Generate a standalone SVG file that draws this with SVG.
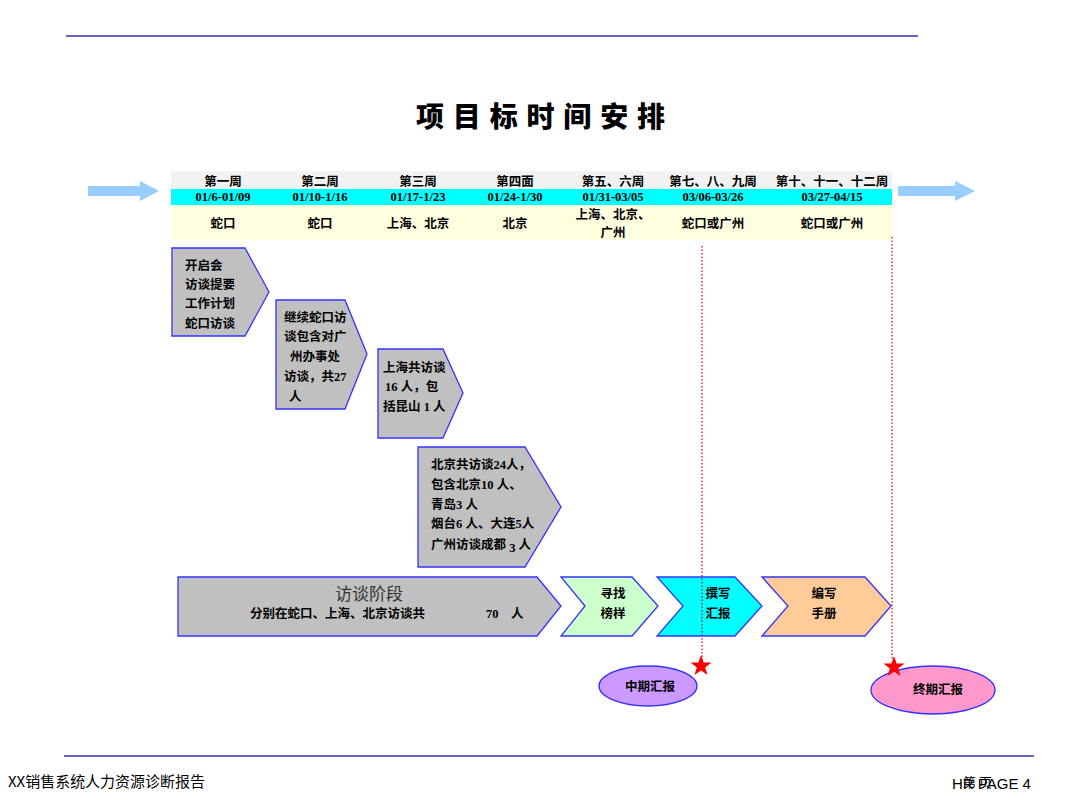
<svg xmlns="http://www.w3.org/2000/svg" width="1080" height="810" viewBox="0 0 1080 810">
<defs>
<style>
.t{font-family:"Liberation Serif","Noto Sans CJK SC",serif;font-weight:bold;font-size:12.5px;fill:#000}
.h{font-family:"Noto Sans CJK SC",sans-serif;font-weight:bold;font-size:12.5px;fill:#000}
.c{text-anchor:middle}
.pent{fill:#c0c0c0;stroke:#3333ff;stroke-width:1.3}
.dot{stroke:#dd0000;stroke-width:1.2;stroke-dasharray:1.5 2;fill:none}
.star{fill:#ff0000}
.rule{stroke:#3333aa;stroke-width:1.5}
</style>
</defs>
<rect width="1080" height="810" fill="#fff"/>
<line class="rule" x1="66" y1="36" x2="918" y2="36"/>
<line class="rule" x1="64" y1="756" x2="1034" y2="756"/>
<text x="416" y="127" font-family="Noto Sans CJK SC,sans-serif" font-weight="900" font-size="28" textLength="249" lengthAdjust="spacing">项目标时间安排</text>

<g id="timeline">
<rect x="171" y="171" width="721" height="18" fill="#f2f2f2"/>
<rect x="171" y="189" width="721" height="16" fill="#00ffff"/>
<rect x="171" y="205" width="721" height="35" fill="#ffffe0"/>
<g class="h c">
<text x="223" y="186">第一周</text>
<text x="320" y="186">第二周</text>
<text x="418" y="186">第三周</text>
<text x="515" y="186">第四面</text>
<text x="613" y="186">第五、六周</text>
<text x="713" y="186">第七、八、九周</text>
<text x="832" y="186">第十、十一、十二周</text>
</g>
<g class="t c">
<text x="223" y="201">01/6-01/09</text>
<text x="320" y="201">01/10-1/16</text>
<text x="418" y="201">01/17-1/23</text>
<text x="515" y="201">01/24-1/30</text>
<text x="613" y="201">01/31-03/05</text>
<text x="713" y="201">03/06-03/26</text>
<text x="832" y="201">03/27-04/15</text>
</g>
<g class="h c">
<text x="223" y="228">蛇口</text>
<text x="320" y="228">蛇口</text>
<text x="418" y="228">上海、北京</text>
<text x="515" y="228">北京</text>
<text x="613" y="219">上海、北京、</text>
<text x="613" y="237">广州</text>
<text x="713" y="228">蛇口或广州</text>
<text x="832" y="228">蛇口或广州</text>
</g>
</g>

<g id="arrow-left"><polygon points="88,186 140,186 140,181 159,191 140,201 140,196 88,196" fill="#99ccff"/></g>
<g id="arrow-right"><polygon points="898,186 955,186 955,181 975,191 955,201 955,196 898,196" fill="#99ccff"/></g>

<g id="step1">
<polygon class="pent" points="172,248 245,248 269,292 245,336 172,336"/>
<g class="h"><text x="185" y="270">开启会</text><text x="185" y="289">访谈提要</text><text x="185" y="308">工作计划</text><text x="185" y="328">蛇口访谈</text></g>
</g>
<g id="step2">
<polygon class="pent" points="276,300 345,300 367,354 345,409 276,409"/>
<g class="t"><text x="284" y="322">继续蛇口访</text><text x="284" y="341">谈包含对广</text><text x="290" y="361">州办事处</text><text x="284" y="381">访谈，共27</text><text x="289" y="401">人</text></g>
</g>
<g id="step3">
<polygon class="pent" points="378,349 443,349 463,393 443,438 378,438"/>
<g class="t"><text x="383" y="372">上海共访谈</text><text x="385" y="391">16 人，包</text><text x="383" y="411">括昆山 1 人</text></g>
</g>
<g id="step4">
<polygon class="pent" points="418,447 525,447 561,507 525,567 418,567"/>
<g class="t"><text x="431" y="469">北京共访谈24人，</text><text x="431" y="489">包含北京10 人、</text><text x="431" y="509">青岛3 人</text><text x="431" y="528">烟台6 人、大连5人</text><text x="431" y="549">广州访谈成都 <tspan dy="3">3</tspan> <tspan dy="-3">人</tspan></text></g>
</g>
<g id="phase-interview">
<polygon class="pent" points="178,577 537,577 561,606 537,636 178,636"/>
<text x="369" y="600" class="c" font-family="Liberation Serif,Noto Sans CJK SC,serif" font-size="17" fill="#333">访谈阶段</text>
<text x="250" y="618" class="h">分别在蛇口、上海、北京访谈共</text>
<text x="486" y="618" class="t">70</text>
<text x="511" y="618" class="h">人</text>
</g>
<g id="phase-benchmark">
<polygon points="561,577 632,577 658,606 632,636 561,636 585,606" fill="#ccffcc" stroke="#3333ff" stroke-width="1.3"/>
<g class="h c"><text x="613" y="598">寻找</text><text x="613" y="618">榜样</text></g>
</g>
<g id="phase-report">
<polygon points="657,577 735,577 762,606 735,636 657,636 683,606" fill="#00ffff" stroke="#3333ff" stroke-width="1.3"/>
<g class="h c"><text x="718" y="598">撰写</text><text x="718" y="618">汇报</text></g>
</g>
<g id="phase-manual">
<polygon points="762,577 865,577 891,606 865,636 762,636 788,606" fill="#ffcc99" stroke="#3333ff" stroke-width="1.3"/>
<g class="h c"><text x="824" y="598">编写</text><text x="824" y="618">手册</text></g>
</g>

<g id="connectors">
<line class="dot" x1="702" y1="246" x2="702" y2="662"/>
<line class="dot" x1="892" y1="237" x2="892" y2="660"/>
</g>

<g id="mid-report">
<ellipse cx="648" cy="686" rx="49" ry="20" fill="#cc99ff" stroke="#3333ff" stroke-width="1.3"/>
<text x="650" y="691" class="h c">中期汇报</text>
</g>
<g id="final-report">
<ellipse cx="933" cy="690" rx="62" ry="24" fill="#ff99cc" stroke="#3333ff" stroke-width="1.3"/>
<text x="938" y="694" class="h c">终期汇报</text>
</g>
<g id="stars">
<polygon class="star" transform="translate(701,666)" points="0,-11 2.6,-3.6 10.5,-3.4 4.2,1.4 6.5,8.9 0,4.4 -6.5,8.9 -4.2,1.4 -10.5,-3.4 -2.6,-3.6"/>
<polygon class="star" transform="translate(894,667)" points="0,-11 2.6,-3.6 10.5,-3.4 4.2,1.4 6.5,8.9 0,4.4 -6.5,8.9 -4.2,1.4 -10.5,-3.4 -2.6,-3.6"/>
</g>

<text x="8" y="787" font-family="Noto Sans CJK SC,sans-serif" font-size="15" textLength="197" lengthAdjust="spacingAndGlyphs" fill="#000">XX销售系统人力资源诊断报告</text>
<text x="952" y="789" font-family="Liberation Sans,Noto Sans CJK SC,sans-serif" font-size="15" fill="#000">HR PAGE 4</text>
<text x="963" y="787" font-family="Noto Sans CJK SC,sans-serif" font-size="13" fill="#000">第 页</text>
</svg>
